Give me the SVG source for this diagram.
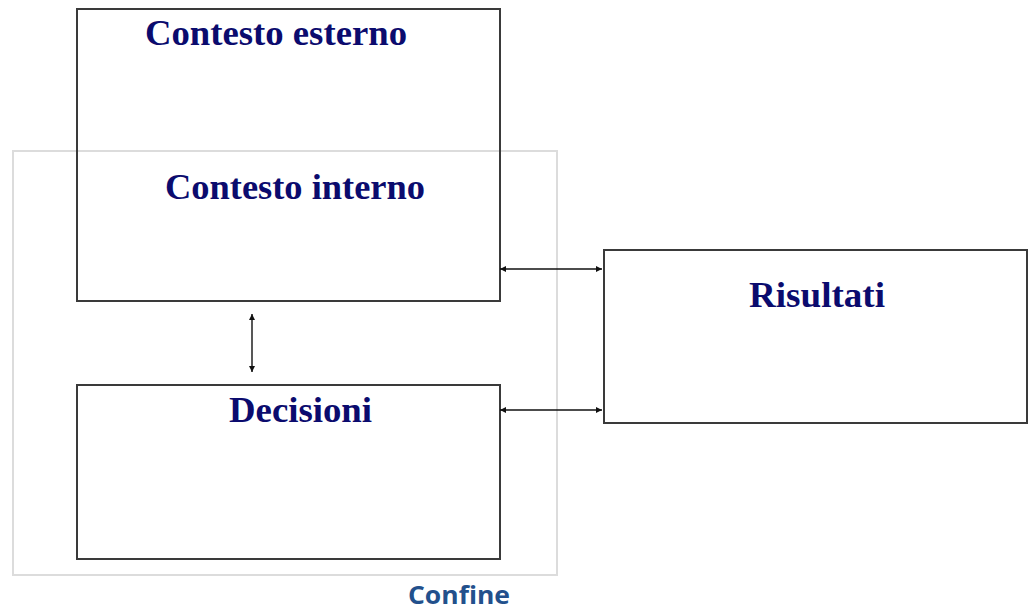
<svg xmlns="http://www.w3.org/2000/svg" width="1030" height="610" viewBox="0 0 1030 610">
<style>
.box{fill:none;stroke:#3a3a3a;stroke-width:2}
.confine{fill:none;stroke:#dcdcdc;stroke-width:2}
.lbl{font-family:"Liberation Serif","Times New Roman",serif;font-weight:bold;font-size:36px;fill:#0b0b6e;text-anchor:middle}
.conf{font-family:"Open Sans","Liberation Sans",sans-serif;font-weight:bold;font-size:25px;fill:#22508c;text-anchor:middle}
.conn{stroke:#111;stroke-width:1.4;fill:none}
</style>
<defs>
<marker id="ah" viewBox="0 0 10 10" refX="10" refY="5" markerWidth="7" markerHeight="6" orient="auto-start-reverse" markerUnits="userSpaceOnUse">
<path d="M0,0 L10,5 L0,10 z" fill="#111"/>
</marker>
<marker id="ahs" viewBox="0 0 10 10" refX="10" refY="5" markerWidth="6" markerHeight="6" orient="auto-start-reverse" markerUnits="userSpaceOnUse">
<path d="M0,0 L10,5 L0,10 z" fill="#111"/>
</marker>
</defs>
<rect width="1030" height="610" fill="#ffffff"/>
<g id="confine">
<rect class="confine" x="13" y="151" width="544" height="424"/>
<text class="conf" x="459" y="604" textLength="102" lengthAdjust="spacingAndGlyphs">Confine</text>
</g>
<g id="contesto">
<rect class="box" x="77" y="9" width="423" height="292"/>
<text class="lbl" x="276" y="45" textLength="262" lengthAdjust="spacingAndGlyphs">Contesto esterno</text>
<text class="lbl" x="295" y="199" textLength="260" lengthAdjust="spacingAndGlyphs">Contesto interno</text>
</g>
<g id="decisioni">
<rect class="box" x="77" y="385" width="423" height="174"/>
<text class="lbl" x="300.5" y="422" textLength="143" lengthAdjust="spacingAndGlyphs">Decisioni</text>
</g>
<g id="risultati">
<rect class="box" x="604" y="250" width="423" height="173"/>
<text class="lbl" x="817" y="307" textLength="136" lengthAdjust="spacingAndGlyphs">Risultati</text>
</g>
<g id="connectors">
<line class="conn" x1="500" y1="269" x2="602" y2="269" marker-start="url(#ahs)" marker-end="url(#ah)"/>
<line class="conn" x1="500" y1="410" x2="602" y2="410" marker-start="url(#ahs)" marker-end="url(#ah)"/>
<line class="conn" x1="252" y1="314" x2="252" y2="372" marker-start="url(#ahs)" marker-end="url(#ahs)"/>
</g>
</svg>
